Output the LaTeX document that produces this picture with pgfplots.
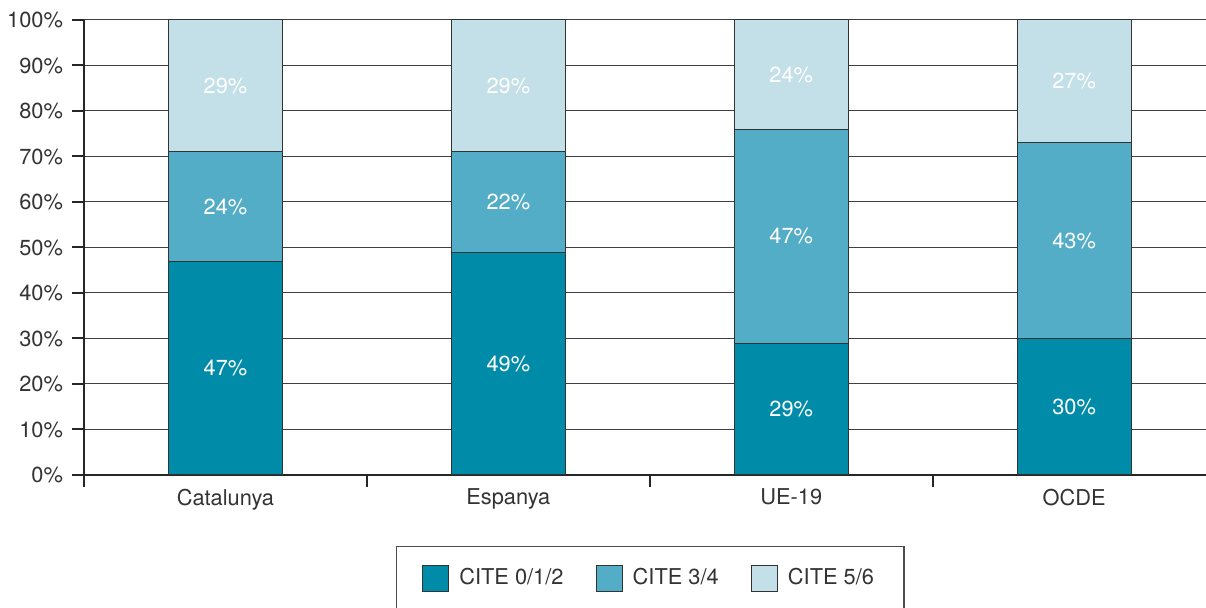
\documentclass[border=0pt]{standalone}
\usepackage{pgfplots}
\pgfplotsset{compat=1.18}
\usepackage{fontspec}
\setmainfont{TeX Gyre Heros}
\definecolor{cdark}{HTML}{008CA8}
\definecolor{cmid}{HTML}{54ADC7}
\definecolor{clight}{HTML}{C3DFE7}
\definecolor{txt}{HTML}{333333}
\newcommand{\chfont}{\fontsize{10.9}{13}\selectfont}
\begin{document}
\begin{tikzpicture}[x=1pt,y=1pt]
\useasboundingbox (0,-304) rectangle (603,0);
\pgfplotsset{
  common/.style={
    scale only axis, width=561pt, height=227.5pt,
    xmin=-0.5, xmax=3.466, ymin=0, ymax=100,
    at={(42pt,-237.5pt)}, anchor=south west,
  }
}
\begin{axis}[common,
  ybar stacked, bar width=57pt,
  axis x line*=bottom, axis y line*=left,
  axis line style={line width=1pt, black!85},
  ytick={0,10,...,100},
  yticklabel={\pgfmathprintnumber{\tick}\%},
  /pgf/number format/assume math mode=true,
  ymajorgrids, grid style={line width=0.5pt, black!75},
  xtick={-0.5,0.5,1.5,2.5},
  xticklabels={},
  extra x ticks={0,1,2,3},
  extra x tick labels={Catalunya,Espanya,UE-19,OCDE},
  extra x tick style={major tick length=0pt, grid=none, xticklabel style={yshift=-3.5pt}},
  tick align=outside,
  major tick length=6pt,
  tick style={line width=1pt, black!85},
  tick label style={font=\chfont, text=txt},
  yticklabel style={xshift=-1pt},
  legend columns=3,
  legend style={at={(0.5045,-0.156)}, anchor=north, draw=black!70, line width=0.6pt,
    inner xsep=13pt, inner ysep=9pt, font=\chfont, text=txt,
    /tikz/every odd column/.append style={column sep=3pt},
    /tikz/every even column/.append style={column sep=14pt}},
  legend image code/.code={\draw[#1, draw=black!80, line width=0.6pt] (0pt,-6.5pt) rectangle (13pt,6.5pt);},
]
\addplot[fill=cdark, draw=black!80, line width=0.5pt] coordinates {(0,47) (1,49) (2,29) (3,30)};
\addplot[fill=cmid, draw=black!80, line width=0.5pt] coordinates {(0,24) (1,22) (2,47) (3,43)};
\addplot[fill=clight, draw=black!80, line width=0.5pt] coordinates {(0,29) (1,29) (2,24) (3,27)};
\legend{CITE 0/1/2, CITE 3/4, CITE 5/6}
\end{axis}
\begin{axis}[common, hide axis, clip=false]
\addplot[draw=none, mark=none, nodes near coords, point meta=explicit symbolic,
  every node near coord/.append style={anchor=center, text=white, font=\chfont}]
  coordinates {
  (0,23.5) [47\%] (1,24.5) [49\%] (2,14.5) [29\%] (3,15) [30\%]
  (0,59) [24\%] (1,60) [22\%] (2,52.5) [47\%] (3,51.5) [43\%]
  (0,85.5) [29\%] (1,85.5) [29\%] (2,88) [24\%] (3,86.5) [27\%]
  };
\end{axis}
\end{tikzpicture}
\end{document}
